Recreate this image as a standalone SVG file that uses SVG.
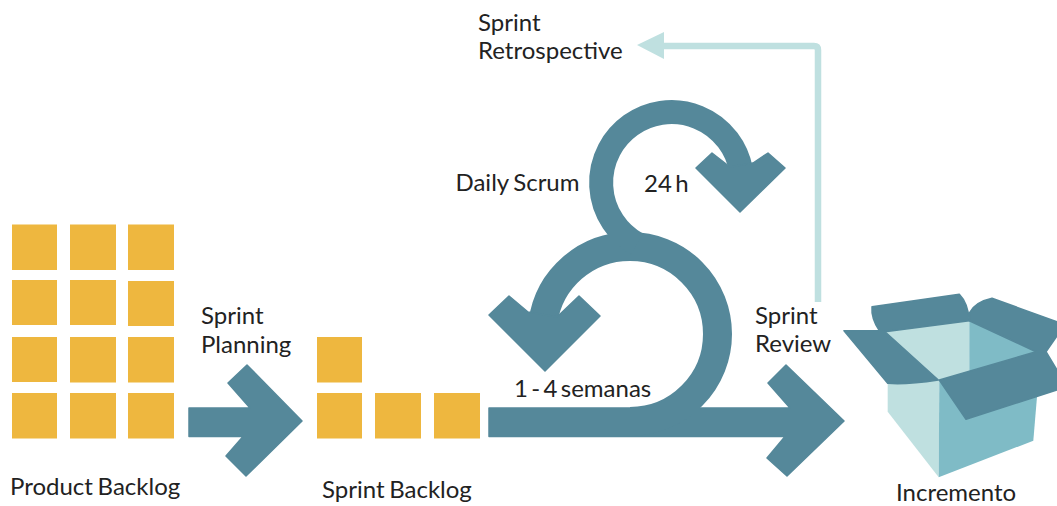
<svg xmlns="http://www.w3.org/2000/svg" width="1057" height="506" viewBox="0 0 1057 506">
<style>
text{font-family:Lato,"Open Sans",sans-serif;font-size:24px;fill:#222;word-spacing:-2.800px}
.w{word-spacing:-1.500px}
.c{fill:#EEB73F}
.d{fill:#55889A;stroke:#55889A;stroke-width:1.500;stroke-linejoin:round}
.s{fill:none;stroke:#55889A}
.l{fill:#BFE0E0}
.m{fill:#7FBBC6}
</style>
<rect width="1057" height="506" fill="#fff"/>
<g id="product-backlog">
<rect class="c" x="12" y="224.500" width="45" height="45.500"/><rect class="c" x="70" y="224.500" width="46" height="45.500"/><rect class="c" x="128" y="224.500" width="46" height="45.500"/>
<rect class="c" x="12" y="280" width="45" height="45"/><rect class="c" x="70" y="280" width="46" height="45"/><rect class="c" x="128" y="281" width="46" height="45"/>
<rect class="c" x="12" y="337" width="45" height="45"/><rect class="c" x="70" y="337" width="46" height="45.500"/><rect class="c" x="128" y="337" width="46" height="45.500"/>
<rect class="c" x="12" y="393" width="45" height="45.500"/><rect class="c" x="70" y="393" width="46" height="45.500"/><rect class="c" x="128" y="393" width="46" height="45.500"/>
<text x="10" y="495" class="w">Product Backlog</text>
</g>
<g id="sprint-backlog">
<rect class="c" x="317" y="337" width="45" height="45.500"/>
<rect class="c" x="317" y="393" width="45" height="45.500"/><rect class="c" x="375" y="393" width="46" height="45.500"/><rect class="c" x="434" y="393" width="46" height="45.500"/>
<text x="322" y="498" class="w">Sprint Backlog</text>
</g>
<g id="connectors">
<polygon class="d" points="189,408 250,408 228,383 247,365 302,421 246,476 226,456 243,436.500 189,436.500"/>
<polygon class="d" points="489,408 790,408 768,383 786,365 844,421 787,476 767,458 785,436.500 489,436.500"/>
<path class="s" stroke-width="29" d="M630,421.500 A87.500,87.500 0 0 0 630,246.500 A87.500,87.500 0 0 0 543,322"/>
<polygon class="d" points="509,296 489,315 545,371 600,316 579,296 557,317 528,312"/>
<path class="s" stroke-width="24" d="M637,244 A70.500,70.500 0 1 1 741,170"/>
<polygon class="d" points="696,168 712,153 730,167 753,163 768,153 785,168 740,212"/>
<path fill="none" stroke="#BFE0E0" stroke-width="6.500" d="M818,302 V50 Q818,46 814,46 H660"/>
<polygon fill="#BFE0E0" points="637,45 664,32 664,59"/>
</g>
<g id="labels">
<text x="201" y="324">Sprint</text>
<text x="201" y="353">Planning</text>
<text x="755" y="324">Sprint</text>
<text x="755" y="352">Review</text>
<text x="455.500" y="191" class="w">Daily Scrum</text>
<text x="644" y="192">24 h</text>
<text x="514" y="397">1 - 4 semanas</text>
<text x="478" y="31">Sprint</text>
<text x="478" y="59">Retrospective</text>
</g>
<g id="incremento">
<polygon class="l" points="887.700,383.300 939.300,380 938.700,477.300 887.700,411.700"/>
<polygon class="m" points="939.300,380 938.700,477.300 1033.300,440.700 1037.300,393.300"/>
<polygon class="l" points="885,331.700 969.300,320.700 969.300,371.700 938.300,380"/>
<polygon class="m" points="969.300,320.700 1036,351.700 969.300,371.700"/>
<path class="d" d="M872,306.700 L959.300,294.300 Q968,303 969.300,320.700 L885,331.700 L879.300,330.700 Q871,318 872,306.700Z"/>
<path class="d" d="M844,330.700 L879.300,330.700 L885,331.700 L938.300,380 Q905,385 887.700,383.300 Z"/>
<path class="d" d="M969.300,320.700 L969.300,313 Q975,302 992,298.300 L1057,321.700 L1057,336 L1046,351.700 L1036,351.700 Z"/>
<polygon class="d" points="939.300,380 1036,351.700 1046,351.700 1057,370 1057,390 966,419.300"/>
<text x="896" y="501">Incremento</text>
</g>
</svg>
